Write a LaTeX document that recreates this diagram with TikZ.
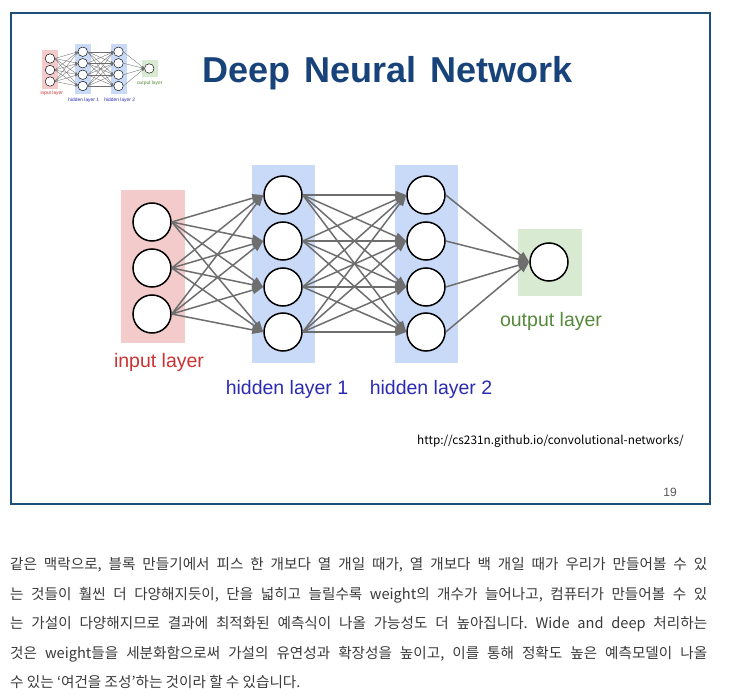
\documentclass[tikz,border=0pt]{standalone}
\usepackage{fontspec}
\setmainfont{Liberation Sans}
\newfontfamily\krfont{Noto Sans CJK KR}
\usetikzlibrary{arrows.meta}
\frenchspacing
\definecolor{framec}{HTML}{1F4E79}
\definecolor{titlec}{HTML}{17427A}
\definecolor{inbg}{HTML}{F3CBCB}
\definecolor{hidbg}{HTML}{C9DAF8}
\definecolor{outbg}{HTML}{D9EAD3}
\definecolor{edgec}{HTML}{6E6E6E}
\definecolor{inlab}{HTML}{CC3333}
\definecolor{hidlab}{HTML}{2B2BB0}
\definecolor{outlab}{HTML}{558A3A}
\definecolor{bodyc}{HTML}{3A3A3A}
\tikzset{
  neuron/.style={circle, draw=black, fill=white, line width=1.5pt, minimum size=38pt, inner sep=0pt},
  edge/.style={draw=edgec, line width=1.5pt, -{Triangle[length=11pt,width=8pt]}},
  layerlab/.style={font=\fontsize{19.5}{22}\selectfont, inner sep=0pt, anchor=center},
  bodyline/.style={font=\krfont\fontsize{14.6}{17}\selectfont, text=bodyc, inner sep=0pt, anchor=base west},
}
\newcommand\nnet[1]{%
  \fill[inbg] (121,190) rectangle (185,343);
  \fill[hidbg] (252,165) rectangle (315,363);
  \fill[hidbg] (395,165) rectangle (458,363);
  \fill[outbg] (518,229) rectangle (582,296);
  \foreach \y [count=\i] in {222,268,314} {\node[neuron] (#1i\i) at (152,\y) {};}
  \foreach \y [count=\i] in {195,241,287,332} {\node[neuron] (#1a\i) at (283,\y) {};}
  \foreach \y [count=\i] in {195,241,287,332} {\node[neuron] (#1b\i) at (426,\y) {};}
  \node[neuron] (#1o) at (549,262) {};
  \foreach \i in {1,2,3} {\foreach \j in {1,2,3,4} {\draw[edge] (#1i\i.east) -- (#1a\j.west);}}
  \foreach \i in {1,2,3,4} {\foreach \j in {1,2,3,4} {\draw[edge] (#1a\i.east) -- (#1b\j.west);}}
  \foreach \i in {1,2,3,4} {\draw[edge] (#1b\i.east) -- (#1o.west);}
  \node[layerlab, text=inlab] (#1li) at (159,362) {input layer};
  \node[layerlab, text=hidlab] (#1lh1) at (287,389) {hidden layer 1};
  \node[layerlab, text=hidlab] (#1lh2) at (431,389) {hidden layer 2};
  \node[layerlab, text=outlab] (#1lo) at (551,321) {output layer};
}
\begin{document}
\begin{tikzpicture}[x=1pt, y=-1pt]
\useasboundingbox (0,0) rectangle (743,700);
\fill[white] (0,0) rectangle (743,700);
% slide frame
\draw[framec, line width=2pt] (11,13) rectangle (710,504);
% title
\node[font=\bfseries\fontsize{36}{40}\selectfont, text=titlec, inner sep=0pt, anchor=base] (title) at (388,83) {Deep\hspace{4pt} Neural\hspace{4pt} Network};
% main network
\nnet{m}
% thumbnail
\begin{scope}[shift={(12,3)}, scale=0.25, transform shape,
  neuron/.style={circle, draw=black, fill=white, line width=0.45pt, minimum size=38pt, inner sep=0pt},
  edge/.style={draw=edgec, line width=0.35pt, -{Triangle[length=2.8pt,width=2pt]}}]
\nnet{t}
\end{scope}
% source and page number
\node[font=\krfont\fontsize{11.8}{14}\selectfont, inner sep=0pt, anchor=base west] (url) at (417,444) {http://cs231n.github.io/convolutional-networks/};
\node[font=\fontsize{12}{14}\selectfont, text=black!65, inner sep=0pt, anchor=base east] (pg) at (677,496) {19};
% body text
\node[bodyline] (t1) at (10,569) {\makebox[697pt][s]{같은 맥락으로, 블록 만들기에서 피스 한 개보다 열 개일 때가, 열 개보다 백 개일 때가 우리가 만들어볼 수 있}};
\node[bodyline] (t2) at (10,599) {\makebox[697pt][s]{는 것들이 훨씬 더 다양해지듯이, 단을 넓히고 늘릴수록 weight의 개수가 늘어나고, 컴퓨터가 만들어볼 수 있}};
\node[bodyline] (t3) at (10,628) {\makebox[697pt][s]{는 가설이 다양해지므로 결과에 최적화된 예측식이 나올 가능성도 더 높아집니다. Wide and deep 처리하는}};
\node[bodyline] (t4) at (10,658) {\makebox[697pt][s]{것은 weight들을 세분화함으로써 가설의 유연성과 확장성을 높이고, 이를 통해 정확도 높은 예측모델이 나올}};
\node[bodyline] (t5) at (10,687) {수 있는 ‘여건을 조성’하는 것이라 할 수 있습니다.};
\end{tikzpicture}
\end{document}
